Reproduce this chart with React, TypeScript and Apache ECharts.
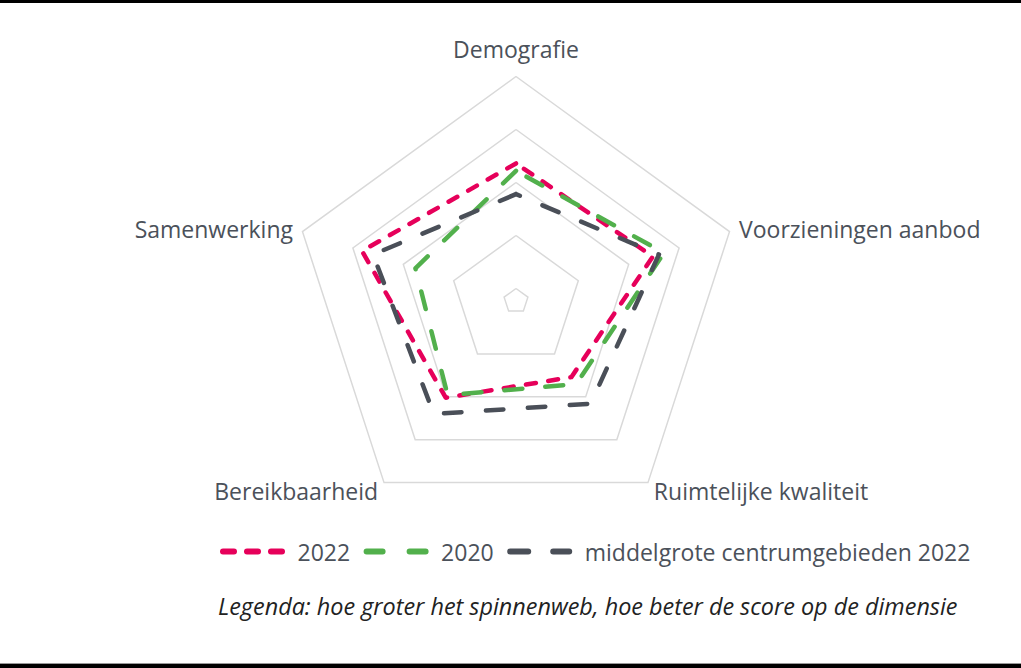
import React, { useEffect, useRef } from "react";
import * as echarts from "echarts";

// Indicators in ECharts order (counter-clockwise from the top)
const indicators = [
  "Demografie",
  "Samenwerking",
  "Bereikbaarheid",
  "Ruimtelijke kwaliteit",
  "Voorzieningen aanbod",
];
const seriesNames = ["2022", "2020", "middelgrote centrumgebieden 2022"];
const values2022 = [59, 70.5, 50.5, 38.5, 62];
const values2020 = [55.5, 44, 49, 42.5, 67.5];
const valuesMiddel = [44.5, 65, 60, 54, 65];
const axisMin = 0;
const axisMax = 100;
const caption = "Legenda: hoe groter het spinnenweb, hoe beter de score op de dimensie";

const colors = ["#e6005a", "#52b04c", "#4a4f58"];
const dashes = [
  [10, 12.5],
  [18, 23],
  [17.5, 24.5],
];

function dashPath(segs: number[][]): string {
  const r = 3;
  return (
    "path://" +
    segs
      .map(
        ([a, b]) =>
          `M${a + r} 0 H${b - r} A${r} ${r} 0 0 1 ${b - r} 6 H${a + r} A${r} ${r} 0 0 1 ${a + r} 0 Z`
      )
      .join(" ")
  );
}

const legendIcons = [
  dashPath([
    [0, 17],
    [24, 41],
    [48, 65],
  ]),
  dashPath([
    [0, 22],
    [43, 65],
  ]),
  dashPath([
    [0, 24],
    [43, 65],
  ]),
];

export default function App() {
  const ref = useRef<HTMLDivElement>(null);
  useEffect(() => {
    if (!ref.current) return;
    const chart = echarts.init(ref.current, undefined, { renderer: "svg" });
    const font = "'Open Sans', 'Noto Sans', sans-serif";
    const textColor = "#4b515a";
    const allValues = [values2022, values2020, valuesMiddel];
    chart.setOption({
      animation: false,
      backgroundColor: "#ffffff",
      legend: {
        left: 220,
        top: 540,
        padding: 0,
        itemWidth: 65,
        itemHeight: 6,
        itemGap: 13.5,
        data: seriesNames.map((n, i) => ({ name: n, icon: legendIcons[i] })),
        textStyle: {
          fontFamily: font,
          fontSize: 23,
          color: textColor,
          padding: [0, 0, 0, 7.5],
        },
      },
      radar: {
        center: [516, 301],
        radius: [12.5, 224.5],
        shape: "polygon",
        splitNumber: 4,
        nameGap: 10,
        indicator: indicators.map((name) => ({ name, min: axisMin, max: axisMax })),
        axisName: {
          color: textColor,
          fontSize: 23,
          fontFamily: font,
          formatter: (name: string) => (name === indicators[0] ? `{top|${name}}` : name),
          rich: {
            top: {
              color: textColor,
              fontSize: 23,
              fontFamily: font,
              padding: [0, 0, 6, 0],
            },
          },
        },
        axisLine: { show: false },
        axisTick: { show: false },
        axisLabel: { show: false },
        splitArea: { show: false },
        splitLine: { lineStyle: { color: "#d9d9d9", width: 1.5 } },
      },
      series: [
        {
          type: "radar",
          symbol: "none",
          silent: true,
          data: seriesNames.map((n, i) => ({
            name: n,
            value: allValues[i],
            itemStyle: { color: colors[i] },
            lineStyle: {
              color: colors[i],
              width: 4.5,
              type: dashes[i],
              cap: "round",
              join: "round",
            },
          })),
        },
      ],
      graphic: [
        {
          type: "text",
          style: {
            x: 218,
            y: 606,
            text: caption,
            fontSize: 23.4,
            fontStyle: "italic",
            fontFamily: font,
            fill: "#222222",
            verticalAlign: "middle",
          },
        },
        { type: "rect", shape: { x: 0, y: 0, width: 1021, height: 3 }, style: { fill: "#000" } },
        { type: "rect", shape: { x: 0, y: 663, width: 1021, height: 1 }, style: { fill: "#999" } },
        { type: "rect", shape: { x: 0, y: 664, width: 1021, height: 4 }, style: { fill: "#000" } },
      ],
    });
    return () => chart.dispose();
  }, []);
  return (
    <div
      ref={ref}
      style={{ position: "fixed", left: 0, top: 0, width: 1021, height: 668 }}
    />
  );
}
